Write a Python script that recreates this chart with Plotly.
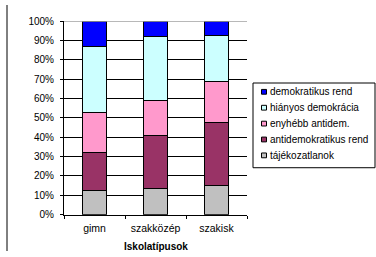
import plotly.graph_objects as go

categories = ["gimn", "szakközép", "szakisk"]
series_names = ["tájékozatlanok", "antidemokratikus rend", "enyhébb antidem.",
                "hiányos demokrácia", "demokratikus rend"]
tajekozatlanok = [12.5, 13.5, 15.0]
antidemokratikus = [19.5, 27.5, 32.7]
enyhebb = [21.0, 18.2, 21.3]
hianyos = [34.0, 33.0, 23.8]
demokratikus = [13.0, 7.8, 7.2]
series_values = [tajekozatlanok, antidemokratikus, enyhebb, hianyos, demokratikus]
colors = ["#C0C0C0", "#993366", "#FF99CC", "#CCFFFF", "#0000FF"]
y_tickvals = [0, 10, 20, 30, 40, 50, 60, 70, 80, 90, 100]
y_ticktext = [f"{v}%" for v in y_tickvals]
axis_title = "Iskolatípusok"

W, H = 376, 257
FONT = "Liberation Sans, Arial, sans-serif"

def px(x):
    return x / W

def py(y):
    return 1 - y / H

fig = go.Figure()
for name, vals, col in zip(series_names, series_values, colors):
    fig.add_trace(go.Bar(
        x=categories, y=vals, name=name, width=0.4,
        marker=dict(color=col, line=dict(color="#000000", width=1)),
        showlegend=False,
    ))

fig.update_layout(
    width=W, height=H, barmode="stack", autosize=False,
    margin=dict(l=0, r=0, t=0, b=0),
    paper_bgcolor="white", plot_bgcolor="white",
    font=dict(family=FONT, size=9, color="black"),
    xaxis=dict(domain=[px(64), px(247)], showline=True, linecolor="black",
               linewidth=1, ticks="outside", ticklen=3, tickcolor="black",
               tickson="boundaries", showgrid=False, ticklabelstandoff=4,
               tickfont=dict(size=10.5)),
    yaxis=dict(domain=[py(219), py(17)], range=[0, 100], showline=True,
               linecolor="black", linewidth=1, ticks="outside", ticklen=3,
               tickcolor="black", tickvals=y_tickvals, ticktext=y_ticktext,
               showgrid=True, gridcolor="black", gridwidth=1, zeroline=False,
               ticklabelstandoff=4, tickfont=dict(size=10)),
)

shapes = []
# chart border line on the left
shapes.append(dict(type="line", xref="paper", yref="paper", x0=px(7), x1=px(7),
                   y0=0, y1=1, line=dict(color="black", width=1)))
# grey top border of plot area
shapes.append(dict(type="line", xref="x domain", yref="y", x0=0, x1=1, y0=100, y1=100,
                   line=dict(color="#A0A0A0", width=1.5), layer="above"))
# legend box
lx0, lx1, ly0, ly1 = 253, 375, 81.5, 170
shapes.append(dict(type="rect", xref="paper", yref="paper", x0=px(lx0), x1=px(lx1),
                   y0=py(ly1), y1=py(ly0), line=dict(color="black", width=1),
                   fillcolor="white"))
annotations = []
row_y0, row_dy = 90.7, 16.6
for i, idx in enumerate(reversed(range(len(series_names)))):
    cy = row_y0 + i * row_dy
    shapes.append(dict(type="rect", xref="paper", yref="paper",
                       x0=px(261.5), x1=px(266.5), y0=py(cy + 2.5), y1=py(cy - 2.5),
                       line=dict(color="black", width=1), fillcolor=colors[idx]))
    annotations.append(dict(xref="paper", yref="paper", x=px(267.5), y=py(cy),
                            text=series_names[idx], showarrow=False, xanchor="left",
                            yanchor="middle", font=dict(size=10, family=FONT)))
annotations.append(dict(xref="paper", yref="paper", x=px(155.5), y=py(252),
                        text="<b>" + axis_title + "</b>", showarrow=False,
                        xanchor="center", yanchor="middle",
                        font=dict(size=10, family=FONT)))
fig.update_layout(shapes=shapes, annotations=annotations)

fig.write_html("out.html", config={"displayModeBar": False, "responsive": False},
               post_script="document.body.style.margin='0';document.body.style.overflow='hidden';")
